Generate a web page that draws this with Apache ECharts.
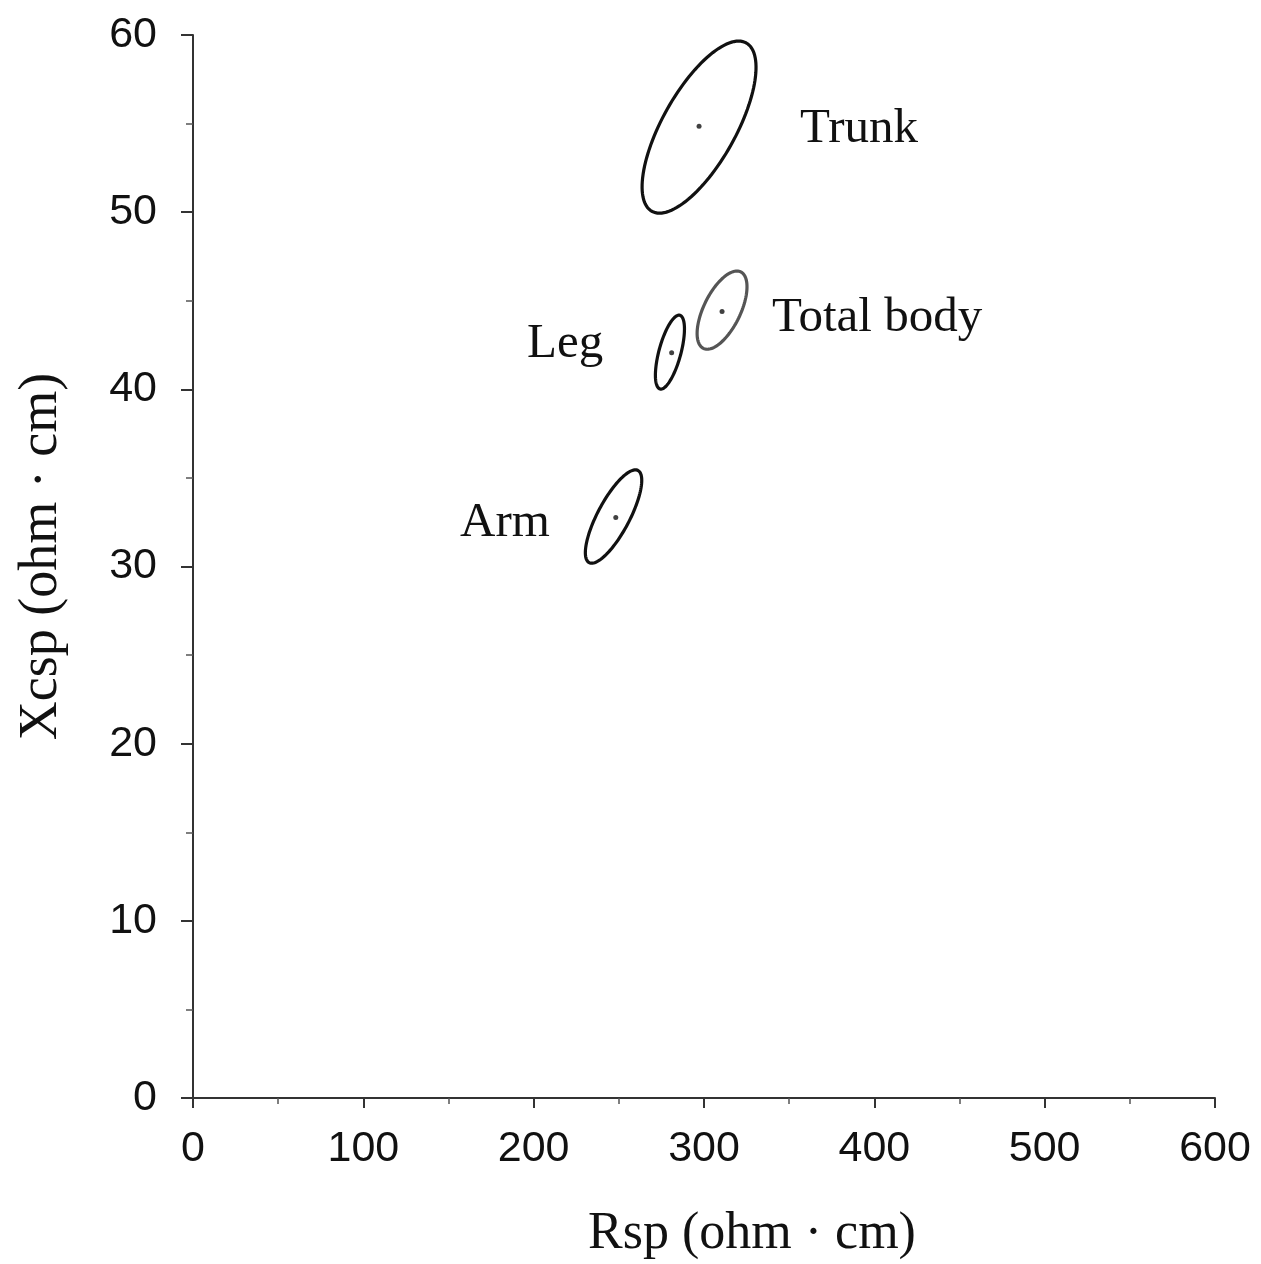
<!DOCTYPE html>
<html>
<head>
<meta charset="utf-8">
<script src="https://cdn.jsdelivr.net/npm/echarts@6/dist/echarts.min.js"></script>
<style>
html,body{margin:0;padding:0;background:#fff;}
#chart{width:1261px;height:1264px;}
</style>
</head>
<body>
<div id="chart"></div>
<script>
// Region names
const names = ['Trunk', 'Total body', 'Leg', 'Arm'];
// Ellipse centres (Rsp, Xcsp)
const centerX = [297.1, 310.6, 280.0, 246.9];
const centerY = [54.80, 44.47, 42.10, 32.82];
// Ellipse half-axis vectors in data units (major and minor)
const majorDX = [27.71, 10.98, 5.83, 14.33];
const majorDY = [4.75, 2.16, 2.08, 2.60];
const minorDX = [18.73, 9.69, 6.23, 8.29];
const minorDY = [-1.01, -0.457, -0.161, -0.423];
// Mean points
const dotX = [297.1, 310.6, 281.0, 248.2];
const dotY = [54.85, 44.4, 42.06, 32.77];
// Label anchors
const labelX = [356.4, 339.9, 196.1, 156.8];
const labelY = [54.7, 44.0, 42.55, 32.45];
const strokeColors = ['#111', '#555', '#111', '#111'];

const xTitle = 'Rsp (ohm \u00b7 cm)';
const yTitle = 'Xcsp (ohm \u00b7 cm)';

const chart = echarts.init(document.getElementById('chart'));

const ellipseData = names.map((n, i) => [centerX[i], centerY[i], majorDX[i], majorDY[i], minorDX[i], minorDY[i]]);
const dotData = names.map((n, i) => [dotX[i], dotY[i]]);
const labelData = names.map((n, i) => [labelX[i], labelY[i], n]);

const serif = "'Liberation Serif', 'Times New Roman', serif";
const sans = "'Liberation Sans', Arial, sans-serif";

chart.setOption({
  animation: false,
  backgroundColor: '#fff',
  grid: { left: 193, right: 46, top: 35, bottom: 166, containLabel: false, outerBoundsMode: 'none' },
  xAxis: {
    type: 'value', min: 0, max: 600, interval: 100,
    axisLine: { show: true, lineStyle: { color: '#333', width: 2 } },
    axisTick: { show: true, length: 10, lineStyle: { color: '#333', width: 2 } },
    minorTick: { show: true, splitNumber: 2, length: 6, lineStyle: { color: '#555', width: 1.5 } },
    splitLine: { show: false },
    axisLabel: { fontFamily: sans, fontSize: 43, color: '#111', margin: 30 },
    name: xTitle, nameLocation: 'middle', nameGap: 110,
    nameTextStyle: { fontFamily: serif, fontSize: 52, color: '#111', padding: [0, 0, 0, 96], verticalAlign: 'top' }
  },
  yAxis: {
    type: 'value', min: 0, max: 60, interval: 10,
    axisLine: { show: true, lineStyle: { color: '#333', width: 2 } },
    axisTick: { show: true, length: 12, lineStyle: { color: '#333', width: 2 } },
    minorTick: { show: true, splitNumber: 2, length: 7, lineStyle: { color: '#555', width: 1.5 } },
    splitLine: { show: false },
    axisLabel: { fontFamily: sans, fontSize: 43, color: '#111', margin: 36 },
    name: yTitle, nameLocation: 'middle', nameGap: 124, nameRotate: 90,
    nameTextStyle: { fontFamily: serif, fontSize: 54, color: '#111', padding: [0, 0, 0, 20] }
  },
  series: [
    {
      type: 'custom',
      data: ellipseData,
      encode: { x: 0, y: 1 },
      silent: true,
      renderItem: function (params, api) {
        const i = params.dataIndex;
        const cx = api.value(0), cy = api.value(1);
        const mx = api.value(2), my = api.value(3);
        const nx = api.value(4), ny = api.value(5);
        const pts = [];
        const steps = 120;
        for (let k = 0; k < steps; k++) {
          const t = (k / steps) * Math.PI * 2;
          const c = Math.cos(t), s = Math.sin(t);
          pts.push(api.coord([cx + c * mx + s * nx, cy + c * my + s * ny]));
        }
        return {
          type: 'polygon',
          shape: { points: pts },
          style: { fill: 'none', stroke: strokeColors[i], lineWidth: 3.2 }
        };
      }
    },
    {
      type: 'scatter',
      data: dotData,
      symbol: 'circle',
      symbolSize: 5,
      itemStyle: { color: '#111' },
      silent: true
    },
    {
      type: 'custom',
      data: labelData,
      encode: { x: 0, y: 1 },
      silent: true,
      renderItem: function (params, api) {
        const p = api.coord([api.value(0), api.value(1)]);
        return {
          type: 'text',
          x: p[0], y: p[1],
          style: {
            text: labelData[params.dataIndex][2],
            fontFamily: serif, fontSize: 49, fill: '#111',
            align: 'left', verticalAlign: 'middle'
          }
        };
      }
    }
  ]
});
</script>
</body>
</html>
